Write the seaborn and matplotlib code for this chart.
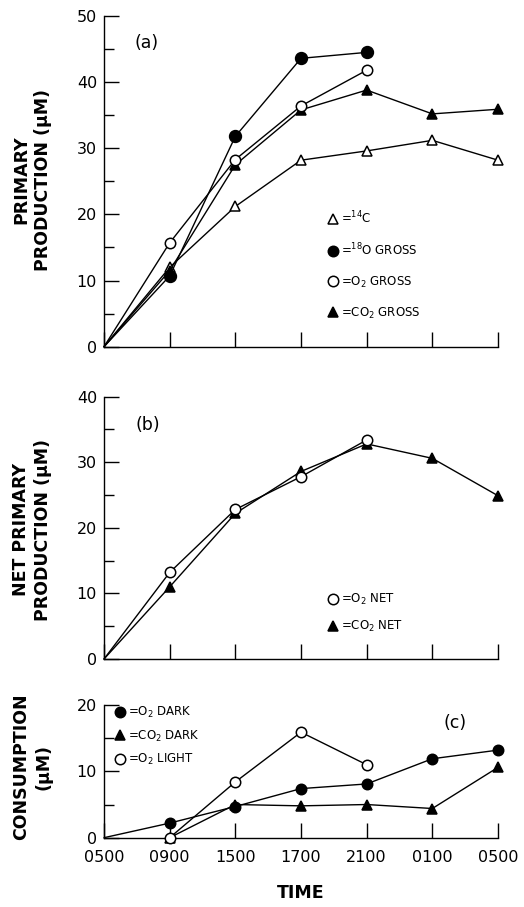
import matplotlib
matplotlib.use("Agg")
import matplotlib.pyplot as plt
from matplotlib.lines import Line2D
from matplotlib.ticker import MultipleLocator
import seaborn as sns

# Sampling times over the diel cycle
times = ["0500", "0900", "1500", "1700", "2100", "0100", "0500"]

# (a) gross primary production (uM)
c14 = [0, 12.0, 21.2, 28.2, 29.6, 31.2, 28.2]
o18_gross = [0, 10.7, 31.8, 43.6, 44.5]
o2_gross = [0, 15.7, 28.3, 36.4, 41.8]
co2_gross = [0, 11.5, 27.5, 35.8, 38.8, 35.2, 35.9]

# (b) net primary production (uM)
o2_net = [0, 13.2, 22.8, 27.8, 33.4]
co2_net = [0, 11.0, 22.2, 28.6, 32.8, 30.6, 24.9]

# (c) consumption (uM); dark CO2 and light O2 start at 0900
o2_dark = [0, 2.2, 4.7, 7.4, 8.1, 11.9, 13.2]
co2_dark = [0, 5.0, 4.8, 5.0, 4.4, 10.6]
o2_light = [0, 8.4, 15.9, 11.0]

sns.set_style("ticks")
plt.rcParams["font.family"] = ["DejaVu Sans"]
plt.rcParams["mathtext.default"] = "regular"
plt.rcParams["text.color"] = "black"

OPEN_TRI = dict(marker="^", mfc="white")
FILL_CIR = dict(marker="o", mfc="black")
OPEN_CIR = dict(marker="o", mfc="white")
FILL_TRI = dict(marker="^", mfc="black")

W, H = 524, 907
fig = plt.figure(figsize=(W / 100, H / 100), dpi=100)


def axes_px(left, right, top, bottom):
    return fig.add_axes([left / W, 1 - bottom / H, (right - left) / W, (bottom - top) / H])


ax_a = axes_px(104, 498, 16, 346.7)
ax_b = axes_px(104, 498, 396.7, 659)
ax_c = axes_px(104, 498, 705, 837.7)


def series(ax, values, style, start=0, ms=7.5):
    xs = list(range(start, start + len(values)))
    # curves that begin at the 0500 origin carry no symbol there
    every = list(range(1, len(values))) if start == 0 else None
    sns.lineplot(x=xs, y=values, ax=ax, color="black", lw=1.0, ms=ms,
                 mec="black", mew=1.1, clip_on=False, zorder=3,
                 markevery=every, **style)


def legend(ax, entries, x, y, spacing):
    handles = [Line2D([], [], ls="none", mec="black", mew=1.1, ms=7.5, **st)
               for st, _ in entries]
    labels = [lab for _, lab in entries]
    ax.legend(handles, labels, loc="upper left", bbox_to_anchor=(x, y),
              frameon=False, fontsize=8.5, handlelength=0.8, handletextpad=0.25,
              labelspacing=spacing, borderpad=0, borderaxespad=0,
              labelcolor="black")


def style_axes(ax, ymax, show_x):
    ax.set_xlim(0, len(times) - 1)
    ax.set_ylim(0, ymax)
    ax.set_xticks(range(len(times)))
    ax.set_xticklabels(times if show_x else [])
    ax.yaxis.set_major_locator(MultipleLocator(10))
    ax.yaxis.set_minor_locator(MultipleLocator(5))
    ax.tick_params(axis="both", which="major", direction="in", length=11,
                   width=1.0, labelsize=11.5, color="black", labelcolor="black")
    ax.tick_params(axis="y", which="major", pad=5)
    ax.tick_params(axis="x", which="major", pad=9)
    ax.tick_params(axis="y", which="minor", direction="in", length=7, width=1.0,
                   color="black")
    for s in ("left", "bottom"):
        ax.spines[s].set_linewidth(1.0)
        ax.spines[s].set_color("black")
    sns.despine(ax=ax)
    ax.set_xlabel("")
    ax.set_ylabel("")


# (a)
series(ax_a, c14, OPEN_TRI)
series(ax_a, co2_gross, FILL_TRI)
series(ax_a, o18_gross, FILL_CIR, ms=8.5)
series(ax_a, o2_gross, OPEN_CIR)
style_axes(ax_a, 50, False)
legend(ax_a, [(OPEN_TRI, "=$^{14}$C"), (FILL_CIR, "=$^{18}$O GROSS"),
              (OPEN_CIR, "=O$_2$ GROSS"), (FILL_TRI, "=CO$_2$ GROSS")],
       0.569, 0.415, 1.35)
fig.text(147 / W, 1 - 43 / H, "(a)", fontsize=12.5, ha="center", va="center")

# (b)
series(ax_b, co2_net, FILL_TRI)
series(ax_b, o2_net, OPEN_CIR)
style_axes(ax_b, 40, False)
legend(ax_b, [(OPEN_CIR, "=O$_2$ NET"), (FILL_TRI, "=CO$_2$ NET")],
       0.569, 0.255, 1.0)
fig.text(148 / W, 1 - 425 / H, "(b)", fontsize=12.5, ha="center", va="center")

# (c)
series(ax_c, o2_dark, FILL_CIR)
series(ax_c, co2_dark, FILL_TRI, start=1)
series(ax_c, o2_light, OPEN_CIR, start=1)
style_axes(ax_c, 20, True)
legend(ax_c, [(FILL_CIR, "=O$_2$ DARK"), (FILL_TRI, "=CO$_2$ DARK"),
              (OPEN_CIR, "=O$_2$ LIGHT")],
       0.029, 1.0, 0.72)
fig.text(455 / W, 1 - 723 / H, "(c)", fontsize=12.5, ha="center", va="center")

# Axis titles
ylab = dict(fontsize=12.5, fontweight="bold", rotation=90, ha="center",
            va="center", multialignment="center", linespacing=1.3)
fig.text(32 / W, 1 - 180 / H, "PRIMARY\nPRODUCTION (μM)", **ylab)
fig.text(32 / W, 1 - 530 / H, "NET PRIMARY\nPRODUCTION (μM)", **ylab)
fig.text(32 / W, 1 - 767 / H, "CONSUMPTION\n(μM)", **ylab)
fig.text(301 / W, 1 - 893 / H, "TIME", fontsize=12.5, fontweight="bold",
         ha="center", va="center")

fig.savefig("out.png", dpi=100)
